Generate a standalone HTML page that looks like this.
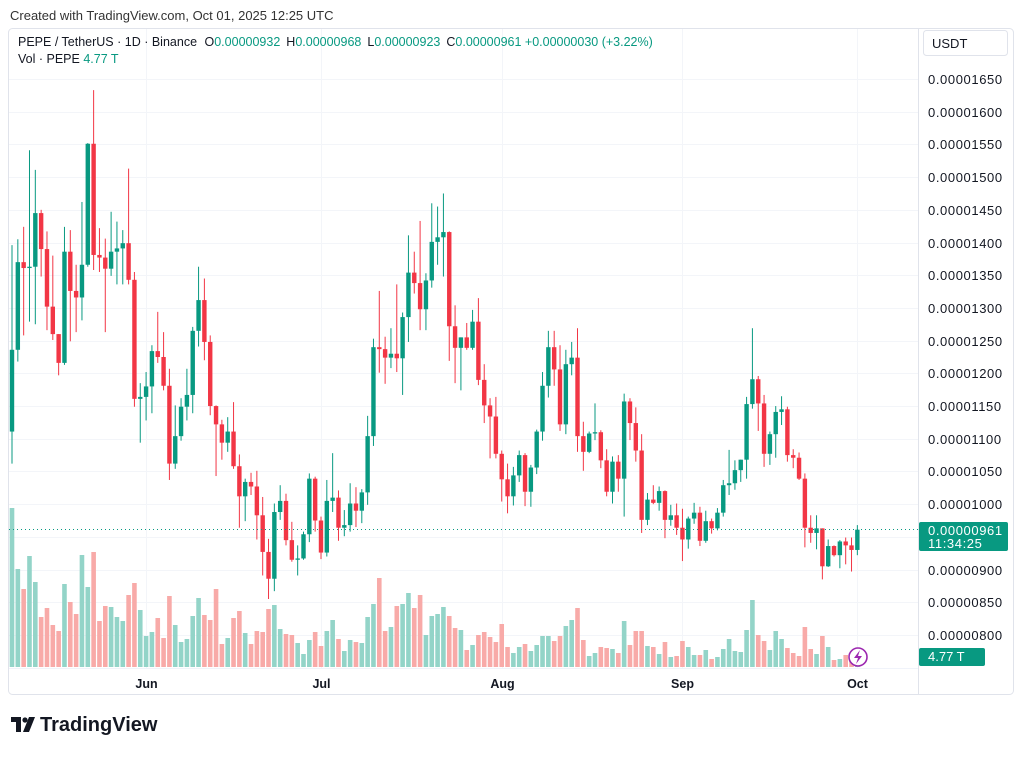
<!DOCTYPE html>
<html><head><meta charset="utf-8"><style>
body{margin:0;background:#fff;font-family:"Liberation Sans",sans-serif;}
svg text{font-family:"Liberation Sans",sans-serif;}
</style></head><body>
<svg id="c" width="1024" height="754" xmlns="http://www.w3.org/2000/svg">
<rect width="1024" height="754" fill="#fff"/>
<rect x="8.5" y="28.5" width="1005" height="666" rx="4" fill="#fff" stroke="#e0e3eb"/>
<line x1="918.5" y1="28" x2="918.5" y2="694" stroke="#e0e3eb"/>
<line x1="9" y1="668.5" x2="918" y2="668.5" stroke="#f0f3fa"/>
<g id="grid"></g>
<g id="vol"></g>
<g id="candles"></g>
<g id="yaxis"></g>
<g id="xaxis"></g>
<text x="10" y="20" font-size="13" fill="#333">Created with TradingView.com, Oct 01, 2025 12:25 UTC</text>
<text x="18" y="46" font-size="12.5" fill="#131722">PEPE / TetherUS · 1D · Binance <tspan dx="4">O</tspan><tspan fill="#089981">0.00000932</tspan><tspan dx="6">H</tspan><tspan fill="#089981">0.00000968</tspan><tspan dx="6">L</tspan><tspan fill="#089981">0.00000923</tspan><tspan dx="6">C</tspan><tspan fill="#089981">0.00000961 +0.00000030 (+3.22%)</tspan></text>
<text x="18" y="63" font-size="12.5" fill="#131722">Vol · PEPE  <tspan fill="#089981">4.77 T</tspan></text>
<rect x="923.5" y="30.5" width="84" height="25" rx="3" fill="#fff" stroke="#e0e3eb"/>
<text x="932" y="48" font-size="13" fill="#131722">USDT</text>
<line x1="9" y1="529.5" x2="918" y2="529.5" stroke="#089981" stroke-dasharray="1,3"/>
<rect x="919" y="522" width="89" height="29" rx="2" fill="#089981"/>
<text x="928" y="535" font-size="13" letter-spacing="0.6" fill="#fff">0.00000961</text>
<text x="928" y="548" font-size="13" letter-spacing="0.6" fill="#fff">11:34:25</text>
<rect x="919" y="648" width="66" height="18" rx="2" fill="#089981"/>
<text x="928" y="661" font-size="13" fill="#fff">4.77 T</text>
<circle cx="858" cy="657" r="9" fill="#fff" stroke="#9c27b0" stroke-width="1.6"/>
<path d="M860 650 L854 658 L858 658 L856 664 L862 656 L858 656 Z" fill="#9c27b0"/>
<g>
<path d="M11 717 h10 v15 h-5 v-10 h-5 z" fill="#131722"/>
<circle cx="25" cy="720" r="2.6" fill="#131722"/>
<path d="M29 717 h6 l-6 15 h-6 z" fill="#131722"/>
<text x="40" y="731" font-size="20" font-weight="bold" fill="#131722">TradingView</text>
</g>
</svg>
<script>
const closes=[1236,1370,1361,1363,1445,1390,1302,1260,1216,1386,1326,1316,1366,1551,1381,1377,1360,1386,1391,1399,1343,1161,1164,1180,1234,1225,1181,1062,1104,1149,1167,1265,1312,1248,1150,1122,1094,1111,1058,1012,1034,1027,983,927,886,988,1005,945,915,917,954,1039,975,926,1005,1010,964,968,1001,990,1018,1104,1240,1237,1224,1230,1223,1286,1354,1338,1298,1342,1401,1408,1416,1272,1239,1255,1239,1279,1190,1151,1134,1077,1038,1012,1044,1075,1019,1056,1111,1181,1240,1206,1122,1214,1224,1104,1080,1108,1110,1067,1019,1065,1039,1157,1124,1082,976,1007,1002,1020,976,983,964,946,978,987,944,974,963,987,1029,1032,1052,1068,1153,1191,1154,1077,1107,1141,1145,1075,1071,1039,964,956,963,905,936,922,943,937,930,961];
const highs=[1396,1405,1424,1541,1511,1450,1417,1380,1260,1424,1419,1366,1462,1552,1633,1422,1406,1447,1432,1419,1513,1355,1185,1202,1243,1294,1263,1207,1151,1162,1207,1271,1363,1345,1258,1151,1129,1133,1156,1076,1039,1048,1051,1011,947,1001,1029,1016,973,937,958,1047,1042,981,1037,1078,1021,991,1032,1026,1023,1135,1253,1326,1256,1269,1336,1293,1411,1386,1433,1353,1460,1455,1475,1417,1304,1255,1277,1297,1315,1214,1162,1164,1082,1062,1057,1082,1078,1060,1114,1202,1265,1265,1243,1236,1248,1269,1126,1111,1154,1113,1084,1073,1075,1169,1162,1148,1107,1017,1029,1027,1021,999,1001,993,981,1002,996,990,978,994,1037,1083,1067,1068,1164,1269,1196,1167,1111,1150,1165,1149,1084,1079,1047,983,983,963,946,937,945,949,949,968];
const lows=[1062,1218,1258,1279,1275,1348,1266,1251,1197,1213,1249,1263,1281,1363,1358,1355,1263,1349,1336,1336,1336,1149,1094,1128,1139,1216,1174,1037,1054,1097,1128,1139,1241,1220,1136,1043,1068,1080,1054,964,974,1014,946,891,855,867,976,937,912,891,915,942,958,916,920,988,944,951,958,965,971,999,1089,1201,1184,1208,1202,1167,1248,1322,1266,1266,1331,1366,1348,1219,1185,1174,1236,1236,1182,1124,1070,1070,1004,986,998,1034,997,996,1046,1097,1163,1181,1112,1107,1197,1080,1051,1078,1098,1055,1012,1001,1019,981,1098,1065,956,968,1000,990,948,967,953,913,932,970,936,941,955,960,981,1014,1022,1034,1039,1146,1112,1057,1060,1071,1121,1065,1055,1037,934,941,931,885,904,920,902,908,897,922];
const firstOpen=1111;
const volumes=[159,98,78,111,85,50,59,42,36,83,65,53,112,80,115,46,61,60,50,46,72,84,57,31,35,49,29,71,42,25,28,51,69,52,47,78,23,29,49,56,34,23,36,35,58,62,38,33,32,24,13,27,35,21,36,47,28,16,27,25,24,50,63,89,36,40,61,63,74,59,72,32,51,53,60,51,39,37,17,22,32,35,30,25,43,20,14,20,23,16,22,31,31,26,31,41,47,59,27,11,14,20,19,18,14,46,22,36,36,21,20,13,25,10,11,26,20,12,12,17,8,10,18,28,16,15,37,67,32,26,17,36,28,19,14,11,40,18,13,31,20,7,8,12,7,6];
const priceTicks=[1650,1600,1550,1500,1450,1400,1350,1300,1250,1200,1150,1100,1050,1000,950,900,850,800];
const monthLabels=["Jun","Jul","Aug","Sep","Oct"];
const monthIndex=[23,53,84,115,145];

const NS="http://www.w3.org/2000/svg";
const xOf=i=>12+i*5.83;
const yOf=p=>79+(1650-p)*0.6541;
const vY=v=>667-v;
function mk(t,a,parent){const e=document.createElementNS(NS,t);for(const k in a)e.setAttribute(k,a[k]);parent.appendChild(e);return e;}
const grid=document.getElementById('grid'),cg=document.getElementById('candles'),vg=document.getElementById('vol'),ya=document.getElementById('yaxis'),xa=document.getElementById('xaxis');
priceTicks.forEach(p=>{
  const y=Math.round(yOf(p))+0.5;
  const l=mk('line',{x1:9,x2:918,y1:y,y2:y,stroke:'#f3f5f9'},grid);
  
  
  if(p!==950){
    const t=mk('text',{x:928,y:y+4.5,'font-size':13,'letter-spacing':0.6,fill:'#131722'},ya);
    t.textContent='0.0000'+String(p).padStart(4,'0');
    
    
  }
});
monthIndex.forEach((idx,k)=>{
  const x=Math.round(xOf(idx))+0.5;
  const l=mk('line',{x1:x,x2:x,y1:29,y2:668,stroke:'#f3f5f9'},grid);
  
  
  const t=mk('text',{x:x,y:688,'font-size':12.5,'font-weight':'bold','text-anchor':'middle',fill:'#131722'},xa);
  t.textContent=monthLabels[k];
  
  
});
closes.forEach((c,i)=>{
  const o=i===0?firstOpen:closes[i-1];
  const up=c>=o;
  const col=up?'#089981':'#f23645';
  const x=xOf(i);
  const vb=mk('rect',{x:x-2.3,y:vY(volumes[i]),width:4.6,height:volumes[i],fill:up?'#93d4c8':'#f8aaa8'},vg);
  
  
  const w=mk('line',{x1:x,x2:x,y1:yOf(highs[i]),y2:yOf(lows[i]),stroke:col,'stroke-width':1},cg);
  
  
  const top=yOf(Math.max(o,c)),bot=yOf(Math.min(o,c));
  const b=mk('rect',{x:x-2.2,y:top,width:4.4,height:Math.max(1,bot-top),fill:col},cg);
  
  
});
</script>
</body></html>
